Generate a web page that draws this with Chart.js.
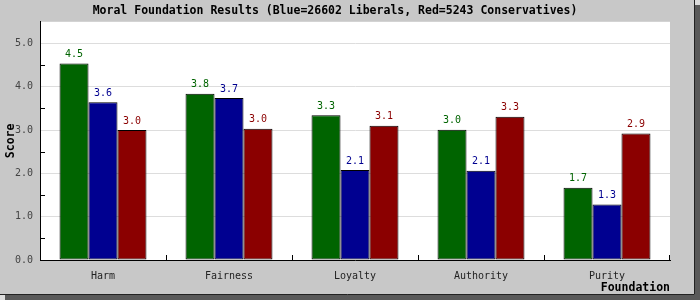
<!DOCTYPE html>
<html>
<head>
<meta charset="utf-8">
<script src="https://cdn.jsdelivr.net/npm/chart.js@4/dist/chart.umd.min.js"></script>
<style>
  html, body { margin: 0; padding: 0; background: #dcdcdc; }
  #wrap { width: 700px; height: 300px; }
</style>
</head>
<body>
<div id="wrap"><canvas id="chart" width="700" height="300"></canvas></div>
<script>
const TITLE = 'Moral Foundation Results (Blue=26602 Liberals, Red=5243 Conservatives)';
const categories = ['Harm', 'Fairness', 'Loyalty', 'Authority', 'Purity'];
const seriesGreen = [4.54, 3.84, 3.34, 3.01, 1.67];
const seriesBlue  = [3.64, 3.74, 2.08, 2.06, 1.28];
const seriesRed   = [3.00, 3.03, 3.10, 3.31, 2.92];

const COLORS = { green: '#006400', blue: '#000090', red: '#8b0000' };
const MONO = "'DejaVu Sans Mono', 'Liberation Mono', monospace";

function barSet(label, data, color) {
    return {
        label: label,
        data: data,
        backgroundColor: color,
        borderColor: '#000000',
        borderWidth: 1,
        borderSkipped: false,
        inflateAmount: 0,
        categoryPercentage: 0.69,
        barPercentage: 1.0
    };
}

// gray frame, drop shadow and white plot area
const framePlugin = {
    id: 'frame',
    beforeDraw(chart) {
        const c = chart.ctx, a = chart.chartArea;
        c.save();
        c.fillStyle = '#dcdcdc';
        c.fillRect(0, 0, 700, 300);
        c.fillStyle = '#595959';
        c.fillRect(5, 5, 695, 295);
        c.fillStyle = '#c8c8c8';
        c.fillRect(0, 0, 695, 295);
        c.strokeStyle = '#222';
        c.lineWidth = 1;
        c.beginPath();
        c.moveTo(694.5, 0); c.lineTo(694.5, 294.5); c.lineTo(0, 294.5);
        c.stroke();
        c.fillStyle = '#ffffff';
        c.fillRect(a.left, a.top, a.right - a.left, a.bottom - a.top);
        c.restore();
    },
    afterDraw(chart) {
        const c = chart.ctx, a = chart.chartArea;
        const y = chart.scales.y, x = chart.scales.x;
        c.save();
        c.strokeStyle = '#000';
        c.lineWidth = 1;
        c.beginPath();
        // minor ticks on the value axis, inside the plot
        for (let v = 0.5; v <= 5.0; v += 1) {
            const py = Math.round(y.getPixelForValue(v)) + 0.5;
            c.moveTo(a.left, py); c.lineTo(a.left + 5, py);
        }
        // category boundary ticks on the bottom axis
        for (let i = 1; i <= categories.length; i++) {
            const px = Math.round((x.getPixelForValue(i - 1) + x.getPixelForValue(i)) / 2) + 0.5;
            const xx = i === categories.length ? a.right - 0.5 : px;
            c.moveTo(xx, a.bottom); c.lineTo(xx, a.bottom - 5);
        }
        c.stroke();
        c.restore();
    }
};

// value labels above each bar
const valueLabels = {
    id: 'valueLabels',
    afterDatasetsDraw(chart) {
        const c = chart.ctx;
        c.save();
        c.font = '10px ' + MONO;
        c.textAlign = 'center';
        c.textBaseline = 'bottom';
        chart.data.datasets.forEach((ds, i) => {
            chart.getDatasetMeta(i).data.forEach((bar, j) => {
                c.fillStyle = ds.backgroundColor;
                c.fillText(ds.data[j].toFixed(1), bar.x, bar.y - 4);
            });
        });
        c.restore();
    }
};

new Chart(document.getElementById('chart'), {
    type: 'bar',
    data: {
        labels: categories,
        datasets: [
            barSet('Green', seriesGreen, COLORS.green),
            barSet('Blue', seriesBlue, COLORS.blue),
            barSet('Red', seriesRed, COLORS.red)
        ]
    },
    options: {
        responsive: false,
        animation: false,
        layout: { padding: { left: 0, right: 30, top: 0, bottom: 6 } },
        plugins: {
            legend: { display: false },
            tooltip: { enabled: false },
            title: {
                display: true,
                text: TITLE,
                color: '#000',
                font: { family: MONO, size: 11.5, weight: 'bold' },
                padding: { top: 4, bottom: 4 }
            }
        },
        scales: {
            x: {
                afterFit(scale) { scale.height = 34; },
                grid: { display: false, drawTicks: false },
                border: { display: true, color: '#000', width: 1 },
                ticks: { color: '#222', font: { family: MONO, size: 10 }, padding: 10 },
                title: {
                    display: true,
                    text: 'Foundation',
                    align: 'end',
                    color: '#000',
                    font: { family: MONO, size: 11.5, weight: 'bold' },
                    padding: { top: 0, bottom: -1 }
                }
            },
            y: {
                min: 0,
                max: 5.5,
                afterFit(scale) { scale.width = 40; },
                grid: {
                    drawTicks: false,
                    color: ctx => (ctx.tick && ctx.tick.value % 1 === 0 && ctx.tick.value > 0) ? '#dddddd' : 'rgba(0,0,0,0)'
                },
                border: { display: true, color: '#000', width: 1 },
                ticks: {
                    stepSize: 0.5,
                    color: '#444',
                    font: { family: MONO, size: 10 },
                    padding: 7,
                    callback: v => (v % 1 === 0 ? v.toFixed(1) : '')
                },
                title: {
                    display: true,
                    text: 'Score',
                    color: '#000',
                    font: { family: MONO, size: 11.5, weight: 'bold' },
                    padding: { top: 4, bottom: 0 }
                }
            }
        }
    },
    plugins: [framePlugin, valueLabels]
});
</script>
</body>
</html>
